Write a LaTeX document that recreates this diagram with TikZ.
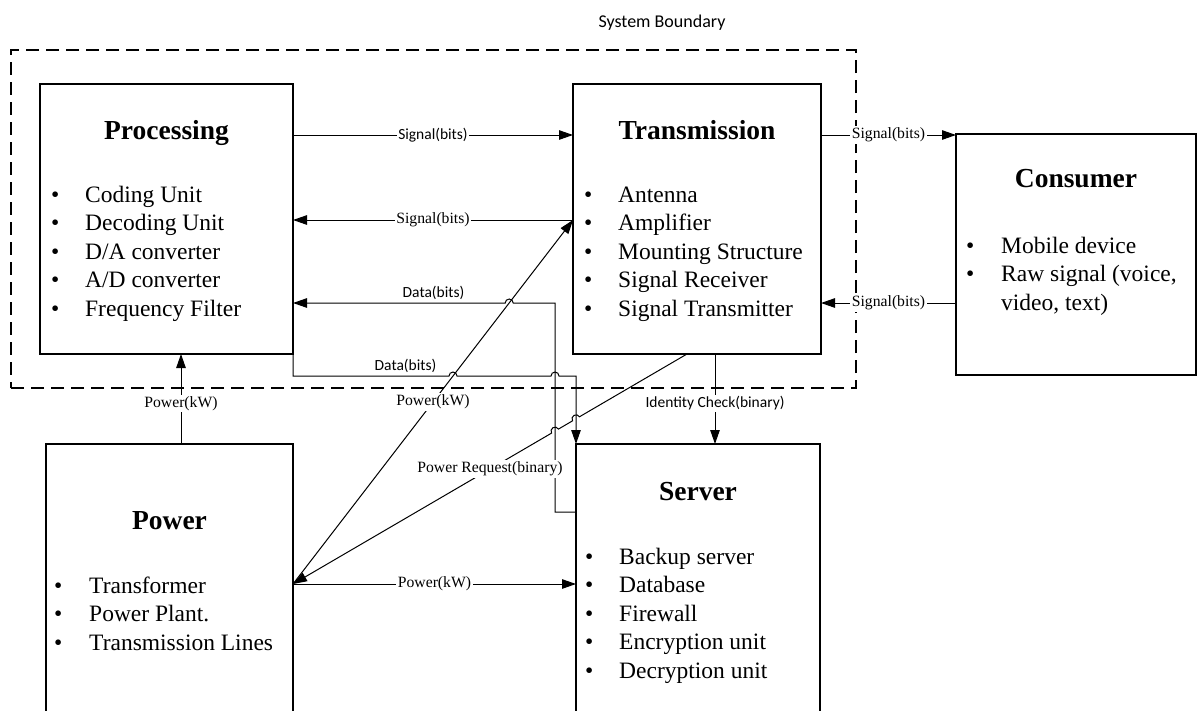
\documentclass[tikz,border=0pt]{standalone}
\usepackage{fontspec}
\setmainfont{Liberation Serif}
\newfontfamily\labelsans{Carlito}
\usetikzlibrary{arrows.meta,calc}

\begin{document}
\begin{tikzpicture}[x=1pt,y=1pt,
  box/.style={draw, line width=1.3pt, rectangle, inner sep=0pt, outer sep=0pt, anchor=north west},
  boundary/.style={draw, line width=1.3pt, dash pattern=on 13pt off 7pt, rectangle, inner sep=0pt, outer sep=0pt, anchor=north west},
  boxtitle/.style={anchor=base, inner sep=0pt, font=\fontsize{27.5}{30}\selectfont\bfseries},
  item/.style={anchor=base west, inner sep=0pt, font=\fontsize{23.5}{28.5}\selectfont},
  flow/.style={line width=1pt, -{Triangle[length=14pt,width=9.5pt]}},
  lblserif/.style={fill=white, inner sep=1.5pt, font=\fontsize{15.7}{18}\selectfont},
  lblsans/.style={fill=white, inner sep=1.5pt, font=\labelsans\fontsize{15.5}{18}\selectfont},
]
\useasboundingbox (0,0) rectangle (1199,-710);
\begin{scope}
\clip (0,0) rectangle (1199,-710);

% system boundary
\node[boundary, minimum width=845pt, minimum height=338pt] (sysb) at (11,-50) {};
\node[font=\labelsans\fontsize{18}{21}\selectfont, inner sep=0pt] (sysbl) at (662,-23) {System Boundary};

% blocks
\node[box, minimum width=253pt, minimum height=270pt] (proc) at (40,-84) {};
\node[box, minimum width=248pt, minimum height=270pt] (trans) at (573,-84) {};
\node[box, minimum width=240pt, minimum height=241pt] (cons) at (956,-134) {};
\node[box, minimum width=247pt, minimum height=300pt] (pow) at (46,-444) {};
\node[box, minimum width=244pt, minimum height=300pt] (serv) at (576,-444) {};

% block titles
\node[boxtitle] (proct) at ([yshift=-55pt]proc.north) {Processing};
\node[boxtitle] (transt) at ([yshift=-55pt]trans.north) {Transmission};
\node[boxtitle] (const) at ([yshift=-53pt]cons.north) {Consumer};
\node[boxtitle] (powt) at ([yshift=-85pt]pow.north) {Power};
\node[boxtitle] (servt) at ([yshift=-56pt]serv.north) {Server};

% bullet lists
\foreach \t [count=\i] in {Coding Unit, Decoding Unit, D/A converter, A/D converter, Frequency Filter}
  \node[item] (proc-\i) at ([xshift=11pt,yshift={-118pt-28.5pt*(\i-1)}]proc.north west) {\makebox[34pt][l]{\textbullet}\t};
\foreach \t [count=\i] in {Antenna, Amplifier, Mounting Structure, Signal Receiver, Signal Transmitter}
  \node[item] (trans-\i) at ([xshift=11pt,yshift={-118pt-28.5pt*(\i-1)}]trans.north west) {\makebox[34pt][l]{\textbullet}\t};
\foreach \t [count=\i] in {Mobile device, {Raw signal (voice,}}
  \node[item] (cons-\i) at ([xshift=10pt,yshift={-119pt-28.5pt*(\i-1)}]cons.north west) {\makebox[35pt][l]{\textbullet}\t};
\node[item] (cons-3) at ([xshift=45pt,yshift=-176pt]cons.north west) {video, text)};
\foreach \t [count=\i] in {Transformer, Power Plant., Transmission Lines}
  \node[item] (pow-\i) at ([xshift=8pt,yshift={-149pt-28.5pt*(\i-1)}]pow.north west) {\makebox[35pt][l]{\textbullet}\t};
\foreach \t [count=\i] in {Backup server, Database, Firewall, Encryption unit, Decryption unit}
  \node[item] (serv-\i) at ([xshift=9pt,yshift={-120pt-28.5pt*(\i-1)}]serv.north west) {\makebox[34pt][l]{\textbullet}\t};

% signal flows
\draw[flow] ([yshift=-51pt]proc.north east) -- node[lblsans]{Signal(bits)} ([yshift=-51pt]trans.north west);
\draw[flow] ([yshift=-136pt]trans.north west) -- node[lblserif]{Signal(bits)} ([yshift=-136pt]proc.north east);
\draw[flow] ([yshift=-51pt]trans.north east) -- node[lblserif]{Signal(bits)} ([yshift=-1pt]cons.north west);
\draw[flow] ([yshift=-169pt]cons.north west) -- node[lblserif]{Signal(bits)} ([yshift=-219pt]trans.north east);

% data flows between server and processing
\draw[flow] ([yshift=-68pt]serv.north west) -- (555,-512) -- (555,-303) -- (513.2,-303)
  arc[start angle=0, end angle=180, radius=4] -- ([yshift=-219pt]proc.north east);
\node[lblsans, fill=none] (data1) at (433.5,-293) {Data(bits)};
\draw[flow] (proc.south east) -- (293,-376) -- (449,-376)
  arc[start angle=180, end angle=0, radius=4] -- (551,-376)
  arc[start angle=180, end angle=0, radius=4] -- (576,-376) -- (serv.north west);
\node[lblsans, fill=none] (data2) at (405.5,-366) {Data(bits)};

% power flows
\draw[flow] ([xshift=135pt]pow.north west) -- node[lblserif, pos=0.45]{Power(kW)} ([xshift=141pt]proc.south west);
\draw[flow] ([yshift=-140pt]pow.north east) -- node[lblserif]{Power(kW)} ([yshift=-136pt]trans.north west);
\draw[flow] ([yshift=-140pt]pow.north east) -- node[lblserif]{Power(kW)} ([yshift=-140pt]serv.north west);

% power request with line hops
\draw[flow] ([xshift=114pt]trans.south west) -- ($(576,-418.8)+(30.27:4)$)
  arc[start angle=30.27, end angle=210.27, radius=4] -- ($(555,-431.1)+(30.27:4)$)
  arc[start angle=30.27, end angle=210.27, radius=4] -- ([yshift=-140pt]pow.north east);
\node[lblserif] (preq) at (490,-469) {Power Request(binary)};

% identity check
\draw[flow] ([xshift=142pt]trans.south west) -- node[lblsans, pos=0.55]{Identity Check(binary)} ([xshift=139pt]serv.north west);
\end{scope}
\end{tikzpicture}
\end{document}
